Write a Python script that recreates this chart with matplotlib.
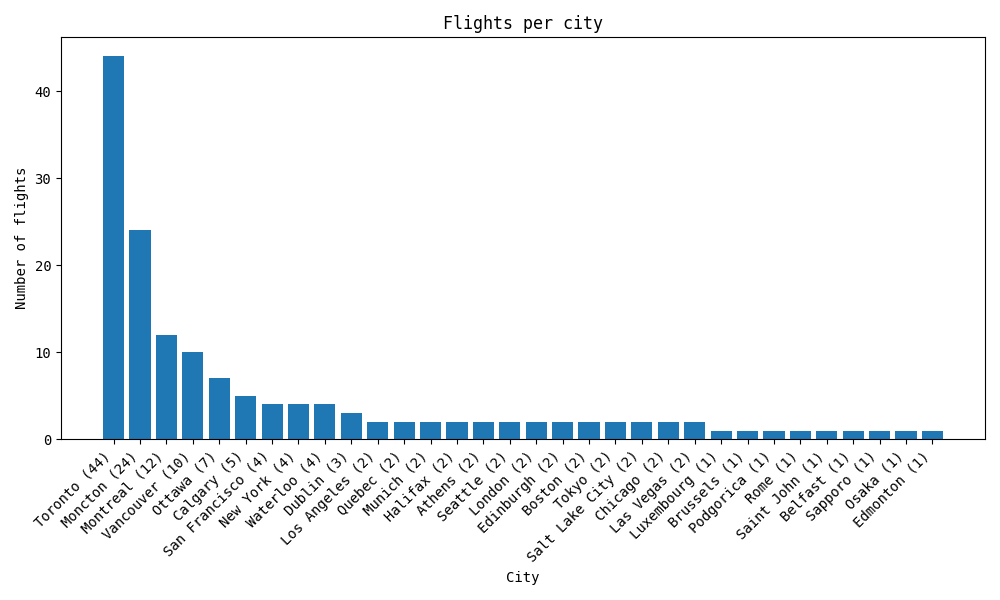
import matplotlib
matplotlib.use("Agg")
import matplotlib.pyplot as plt

plt.rcParams["font.family"] = "DejaVu Sans Mono"

cities = ["Toronto", "Moncton", "Montreal", "Vancouver", "Ottawa", "Calgary",
          "San Francisco", "New York", "Waterloo", "Dublin", "Los Angeles",
          "Quebec", "Munich", "Halifax", "Athens", "Seattle", "London",
          "Edinburgh", "Boston", "Tokyo", "Salt Lake City", "Chicago",
          "Las Vegas", "Luxembourg", "Brussels", "Podgorica", "Rome",
          "Saint John", "Belfast", "Sapporo", "Osaka", "Edmonton"]
flights = [44, 24, 12, 10, 7, 5, 4, 4, 4, 3, 2, 2, 2, 2, 2, 2, 2, 2, 2, 2,
           2, 2, 2, 1, 1, 1, 1, 1, 1, 1, 1, 1]

labels = [f"{c} ({n})" for c, n in zip(cities, flights)]

fig, ax = plt.subplots(figsize=(10, 6), dpi=100)
ax.bar(labels, flights, color="#1f77b4")
ax.set_title("Flights per city")
ax.set_xlabel("City")
ax.set_ylabel("Number of flights")
plt.setp(ax.get_xticklabels(), rotation=45, ha="right")
fig.tight_layout()
fig.savefig("out.png")
